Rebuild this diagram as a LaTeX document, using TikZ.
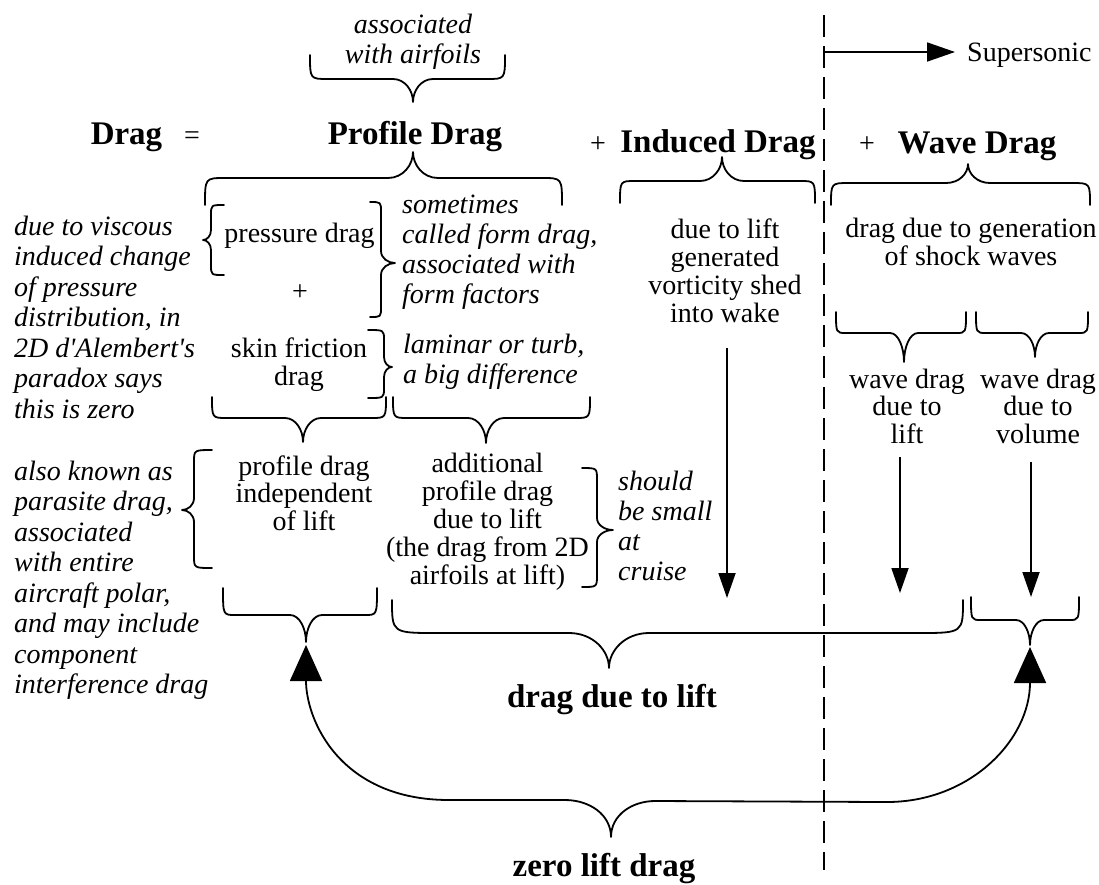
\documentclass[tikz,border=0pt]{standalone}
\usepackage{fontspec}
\setmainfont{Liberation Serif}
\usetikzlibrary{arrows.meta}
\tikzset{
  brace/.style={draw, line width=1.8pt, line join=round, line cap=round},
  reg/.style={font=\fontsize{28}{28}\selectfont, inner sep=0pt, align=center, anchor=base},
  regw/.style={font=\fontsize{28}{27.5}\selectfont, inner sep=0pt, align=center, anchor=base},
  ital/.style={font=\fontsize{28}{30.5}\selectfont\itshape, inner sep=0pt, align=left, anchor=base west},
  italt/.style={font=\fontsize{28}{30}\selectfont\itshape, inner sep=0pt, align=left, anchor=base west},
  italc/.style={font=\fontsize{28}{30}\selectfont\itshape, inner sep=0pt, align=center, anchor=base},
  bold/.style={font=\fontsize{33}{33}\selectfont\bfseries, inner sep=0pt, anchor=base},
  arr/.style={line width=1.8pt, -{Triangle[length=25pt,width=17pt]}},
  bigtip/.style={line width=1.8pt, {Triangle[length=36pt,width=32pt]}-{Triangle[length=36pt,width=32pt]}},
  ssarr/.style={line width=1.8pt, -{Triangle[length=28pt,width=19pt]}},
  divider/.style={line width=1.8pt, dash pattern=on 22pt off 9pt}
}
\newcommand\hbr[8]{%
  \draw[brace] (#1,#3) .. controls (#1,#4) .. ({#1+#7},#4) -- ({#5-#8},#4)
    .. controls ({#5-0.4*#8},#4) and (#5,{(#4+#6)/2}) .. (#5,#6)
    .. controls (#5,{(#4+#6)/2}) and ({#5+0.4*#8},#4) .. ({#5+#8},#4)
    -- ({#2-#7},#4) .. controls (#2,#4) .. (#2,#3);}
\newcommand\vbr[8]{%
  \draw[brace] (#1,#3) .. controls (#2,#3) .. (#2,{#3+#7}) -- (#2,{#6-#8})
    .. controls (#2,{#6-0.4*#8}) and ({(#2+#5)/2},#6) .. (#5,#6)
    .. controls ({(#2+#5)/2},#6) and (#2,{#6+0.4*#8}) .. (#2,{#6+#8})
    -- (#2,{#4-#7}) .. controls (#2,#4) .. (#1,#4);}
\begin{document}
\begin{tikzpicture}[x=1pt,y=-1pt]
\useasboundingbox (0,0) rectangle (1099,884);

% top labels (multi-line nodes: base = baseline of last line)
\node[italc] (assoc) at (413,63) {associated\\with airfoils};
\node[bold] (drag) at (126.5,144) {Drag};
\node[reg] (eq) at (192,144) {=};
\node[bold] (profile) at (415,144) {Profile Drag};
\node[reg] (plus1) at (598,152) {+};
\node[bold] (induced) at (718,152) {Induced Drag};
\node[reg] (plus2) at (867,152) {+};
\node[bold] (wave) at (977,153) {Wave Drag};
\node[reg, anchor=base west] (super) at (967,61) {Supersonic};

% divider and supersonic arrow
\coordinate (divtop) at (824,15);
\coordinate (divbot) at (824,870);
\draw[divider] (divtop) -- (divbot);
\coordinate (ss0) at (824,52);
\draw[ssarr] (ss0) -- ([xshift=-12pt]super.west |- ss0);

% braces under headings
\hbr{310}{505}{55}{79}{413}{102}{18}{20}
\hbr{205}{562}{205}{178}{413}{152}{20}{25}
\hbr{620}{815}{203}{181}{722}{157}{15}{22}
\hbr{831}{1090}{205}{183}{968}{164}{18}{22}

% profile drag column
\node[ital] (viscous) at (14,418) {due to viscous\\induced change\\of pressure\\distribution, in\\2D d\textquotesingle Alembert\textquotesingle s\\paradox says\\this is zero};
\node[reg] (pressure) at (299.5,242) {pressure drag};
\node[reg] (plus3) at (300,300) {+};
\node[reg] (skin) at (299,385) {skin friction\\drag};
\node[italt] (form) at (402,303) {sometimes\\called form drag,\\associated with\\form factors};
\node[italt] (laminar) at (403,383) {laminar or turb,\\a big difference};
\vbr{224}{211}{205}{275}{203}{240}{10}{10}
\vbr{370}{381}{202}{317}{395}{263}{10}{12}
\vbr{368}{384}{330}{398}{392}{367}{10}{10}
\hbr{212}{386}{397}{418}{303}{442}{15}{18}
\hbr{393}{590}{397}{418}{486}{443}{15}{18}

\node[ital] (parasite) at (14,693.5) {also known as\\parasite drag,\\associated\\with entire\\aircraft polar,\\and may include\\component\\interference drag};
\vbr{212}{194}{450}{568}{182}{510}{12}{12}
\node[regw] (indep) at (304,530) {profile drag\\independent\\of lift};
\node[reg] (addl) at (487.5,584) {additional\\profile drag\\due to lift\\(the drag from 2D\\airfoils at lift)};
\vbr{582}{597}{468}{587}{613}{530}{12}{12}
\node[italt] (small) at (618,580) {should\\be small\\at\\cruise};

% induced column
\node[reg] (vort) at (725,322) {due to lift\\generated\\vorticity shed\\into wake};
\coordinate (ia1) at (727,348);
\coordinate (ia2) at (727,598);
\draw[arr] (ia1) -- (ia2);

% wave column
\node[reg] (shock) at (971,265) {drag due to generation\\of shock waves};
\hbr{836}{966}{312}{333}{904}{362}{10}{14}
\hbr{976}{1088}{312}{333}{1035}{357}{10}{14}
\node[regw] (wlift) at (907,443) {wave drag\\due to\\lift};
\node[regw] (wvol) at (1038,443) {wave drag\\due to\\volume};
\coordinate (la1) at (900,457);
\coordinate (la2) at (900,593);
\draw[arr] (la1) -- (la2);
\coordinate (va1) at (1031,462);
\coordinate (va2) at (1031,597);
\draw[arr] (va1) -- (va2);

% bottom braces
\hbr{223}{377}{588}{615}{306}{642}{12}{16}
\hbr{392}{963}{600}{633}{609}{668}{45}{40}
\hbr{971}{1079}{597}{620}{1030}{645}{10}{14}
\node[bold] (ddl) at (612,707) {drag due to lift};

% zero lift brace with arrows
\coordinate (zl) at (306,645);
\coordinate (zr) at (1030,647);
\draw[brace, bigtip] (zl) .. controls (306,720) and (340,800) .. (449,800) -- (565,800)
  .. controls (590,800) and (611,815) .. (611,837)
  .. controls (611,815) and (632,801) .. (655,801) -- (887,802)
  .. controls (970,802) and (1030,740) .. (zr);
\node[bold] (zld) at (604,876) {zero lift drag};
\end{tikzpicture}
\end{document}
